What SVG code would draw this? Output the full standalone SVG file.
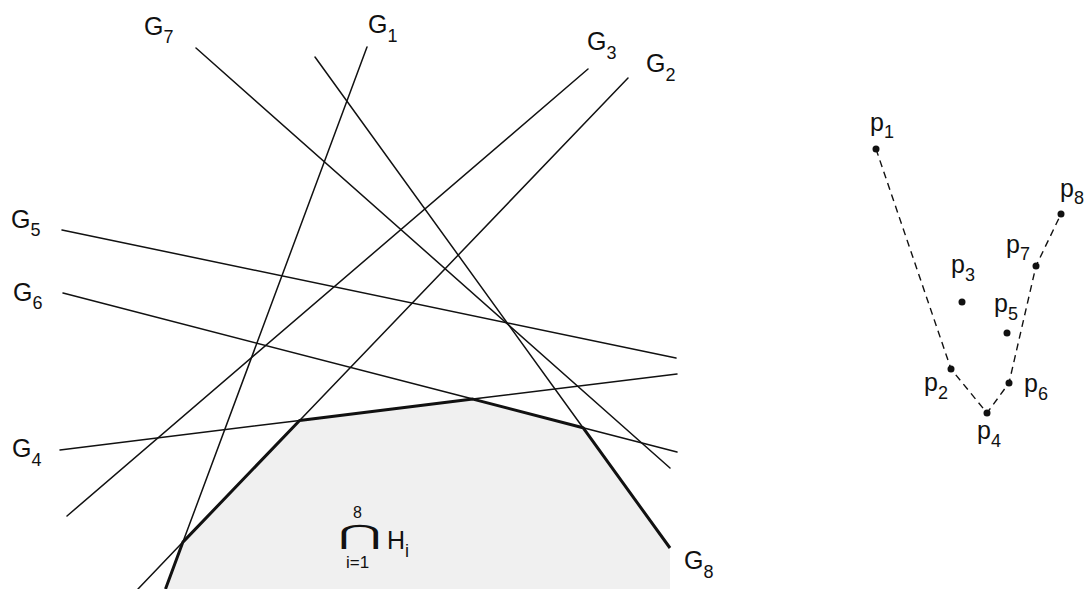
<svg xmlns="http://www.w3.org/2000/svg" width="1085" height="589" viewBox="0 0 1085 589">
<style>
.t{font-family:"Liberation Sans",Arial,sans-serif;font-size:25px;fill:#111}
.s{font-size:18px}
.ps{font-size:18px}
.thin{stroke:#111;stroke-width:1.5;fill:none;stroke-linecap:round}
.thick{stroke:#111;stroke-width:3;fill:none;stroke-linejoin:round}
.dash{stroke:#111;stroke-width:1.4;fill:none;stroke-dasharray:7 5}
.pt{fill:#111}
</style>
<rect width="1085" height="589" fill="#fff"/>
<g id="region">
<polygon points="165.5,589 182.9,542.1 299.6,420.5 472.9,399.1 583,427.7 670,548 670,589" fill="#f0f0f0"/>
</g>
<g id="connectors">
<line class="thin" x1="196" y1="48" x2="670" y2="468"/>
<line class="thin" x1="315" y1="57" x2="583" y2="427.7"/>
<line class="thin" x1="367" y1="47" x2="182.9" y2="542.1"/>
<line class="thin" x1="628" y1="78" x2="299.6" y2="420.5"/>
<line class="thin" x1="182.9" y1="542.1" x2="138" y2="589"/>
<line class="thin" x1="588" y1="69" x2="67" y2="516"/>
<line class="thin" x1="62" y1="230" x2="676" y2="358"/>
<line class="thin" x1="63" y1="293" x2="472.9" y2="399.1"/>
<line class="thin" x1="583" y1="427.7" x2="677" y2="452"/>
<line class="thin" x1="60" y1="450" x2="299.6" y2="420.5"/>
<line class="thin" x1="472.9" y1="399.1" x2="677" y2="374"/>
<polyline class="thick" points="165.5,589 182.9,542.1 299.6,420.5 472.9,399.1 583,427.7 670,548"/>
<polyline class="dash" points="876,149 951,369 987,413 1009,383 1036,266 1061,214"/>
</g>
<g id="G7"><text class="t" x="144" y="35">G<tspan class="s" dy="8">7</tspan></text></g>
<g id="G1"><text class="t" x="368" y="33">G<tspan class="s" dy="9">1</tspan></text></g>
<g id="G3"><text class="t" x="587" y="50">G<tspan class="s" dy="9">3</tspan></text></g>
<g id="G2"><text class="t" x="646" y="72">G<tspan class="s" dy="9">2</tspan></text></g>
<g id="G5"><text class="t" x="11" y="228">G<tspan class="s" dy="8">5</tspan></text></g>
<g id="G6"><text class="t" x="13" y="301">G<tspan class="s" dy="8">6</tspan></text></g>
<g id="G4"><text class="t" x="12" y="457">G<tspan class="s" dy="9">4</tspan></text></g>
<g id="G8"><text class="t" x="684" y="569">G<tspan class="s" dy="9">8</tspan></text></g>
<g id="intersection">
<text transform="translate(338,544) scale(1.4,0.7)" style="font-family:'DejaVu Sans',sans-serif;font-size:38px;fill:#111">⋂</text>
<text class="t" x="353" y="518" style="font-size:16px">8</text>
<text class="t" x="346" y="568" style="font-size:17px">i=1</text>
<text class="t" x="387" y="549">H<tspan class="s" dy="8">i</tspan></text>
</g>
<g id="p1"><circle class="pt" cx="876" cy="149" r="3.5"/><text class="t" x="870" y="131">p<tspan class="ps" dy="7">1</tspan></text></g>
<g id="p8"><circle class="pt" cx="1061" cy="214" r="3.5"/><text class="t" x="1060" y="197">p<tspan class="ps" dy="7">8</tspan></text></g>
<g id="p7"><circle class="pt" cx="1036" cy="266" r="3.5"/><text class="t" x="1006" y="253">p<tspan class="ps" dy="7">7</tspan></text></g>
<g id="p3"><circle class="pt" cx="962" cy="302" r="3.5"/><text class="t" x="951" y="273">p<tspan class="ps" dy="8">3</tspan></text></g>
<g id="p5"><circle class="pt" cx="1007" cy="333" r="3.5"/><text class="t" x="994" y="312">p<tspan class="ps" dy="8">5</tspan></text></g>
<g id="p2"><circle class="pt" cx="951" cy="369" r="3.5"/><text class="t" x="924" y="391">p<tspan class="ps" dy="8">2</tspan></text></g>
<g id="p6"><circle class="pt" cx="1009" cy="383" r="3.5"/><text class="t" x="1024" y="392">p<tspan class="ps" dy="8">6</tspan></text></g>
<g id="p4"><circle class="pt" cx="987" cy="413" r="3.5"/><text class="t" x="977" y="439">p<tspan class="ps" dy="8">4</tspan></text></g>
</svg>
